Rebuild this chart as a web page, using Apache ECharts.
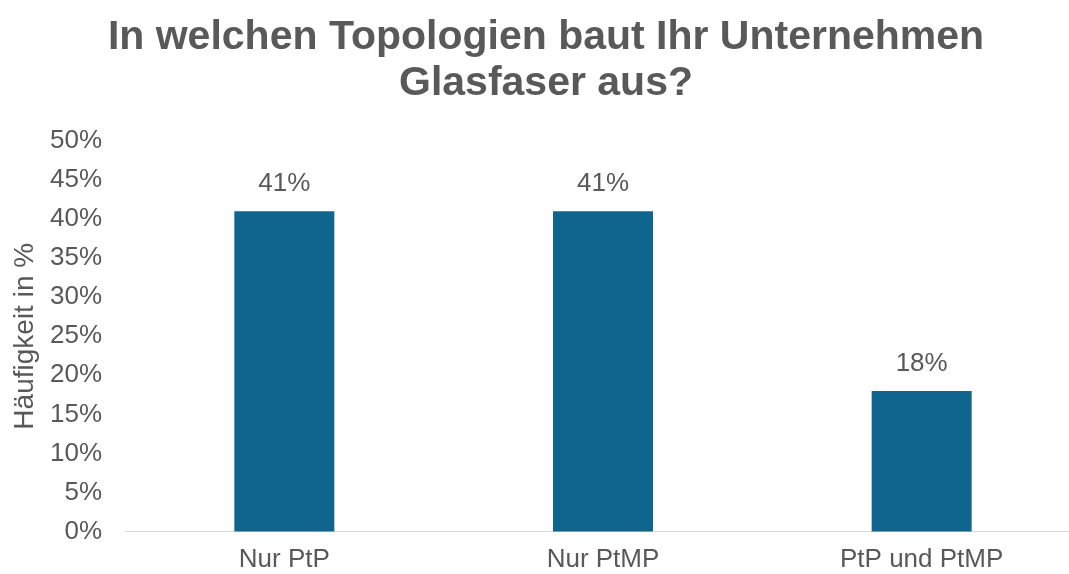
<!DOCTYPE html>
<html><head><meta charset="utf-8">
<script src="https://cdn.jsdelivr.net/npm/echarts@6/dist/echarts.min.js"></script>
<style>html,body{margin:0;padding:0;background:#fff}#c{width:1069px;height:574px}</style>
</head><body><div id="c"></div>
<script>
const categories = ['Nur PtP', 'Nur PtMP', 'PtP und PtMP'];
const values = [41, 41, 18];
const yTicks = [0, 5, 10, 15, 20, 25, 30, 35, 40, 45, 50];
const titleText = 'In welchen Topologien baut Ihr Unternehmen\nGlasfaser aus?';
const yName = 'Häufigkeit in %';

const FONT = 'Liberation Sans, Arial, sans-serif';
const chart = echarts.init(document.getElementById('c'));
chart.setOption({
  animation: false,
  title: {
    text: titleText, left: 541, top: 10, textAlign: 'center',
    textStyle: { fontFamily: FONT, fontWeight: 'bold', fontSize: 41, color: '#595959', lineHeight: 46 }
  },
  grid: { left: 125, right: -12, top: 141, bottom: 42.5, outerBoundsMode: 'none', containLabel: false },
  xAxis: {
    type: 'category', data: categories,
    axisLine: { lineStyle: { color: '#d9d9d9', width: 1 } },
    axisTick: { show: false },
    axisLabel: { color: '#595959', fontSize: 26, fontFamily: FONT, margin: 15 }
  },
  yAxis: {
    type: 'value', min: yTicks[0], max: yTicks[yTicks.length - 1], interval: 5,
    name: yName, nameLocation: 'middle', nameGap: 86, nameRotate: 90,
    nameTextStyle: { color: '#595959', fontSize: 28, fontFamily: FONT },
    axisLine: { show: false }, axisTick: { show: false }, splitLine: { show: false },
    axisLabel: { color: '#595959', fontSize: 26, fontFamily: FONT, margin: 23, formatter: v => v + '%' }
  },
  series: [{
    type: 'bar', data: values, barWidth: 100,
    itemStyle: { color: '#10658f' },
    label: { show: true, position: 'top', distance: 14, color: '#595959', fontSize: 26, fontFamily: FONT, formatter: p => p.value + '%' }
  }]
});
</script></body></html>
